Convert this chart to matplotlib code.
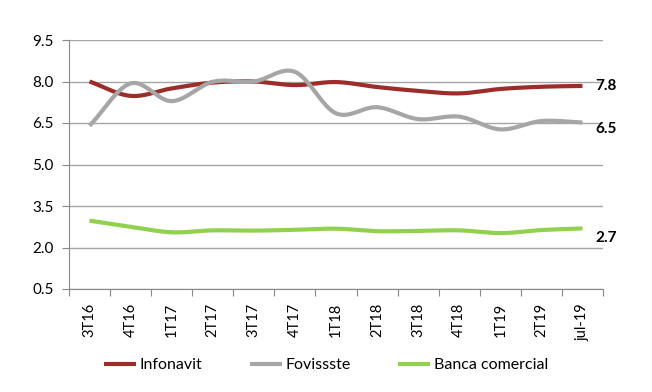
import matplotlib
matplotlib.use("Agg")
import matplotlib.pyplot as plt
import numpy as np

categories = ["3T16", "4T16", "1T17", "2T17", "3T17", "4T17", "1T18",
              "2T18", "3T18", "4T18", "1T19", "2T19", "jul-19"]
infonavit = [8.0, 7.48, 7.75, 7.96, 8.0, 7.87, 7.98, 7.8, 7.66, 7.57, 7.73, 7.81, 7.84]
fovissste = [6.4, 7.93, 7.29, 7.99, 8.0, 8.35, 6.85, 7.07, 6.64, 6.73, 6.27, 6.57, 6.52]
banca = [2.97, 2.75, 2.55, 2.62, 2.61, 2.64, 2.68, 2.59, 2.6, 2.62, 2.52, 2.63, 2.69]
series_names = ["Infonavit", "Fovissste", "Banca comercial"]
end_labels = ["7.8", "6.5", "2.7"]
yticks = [0.5, 2.0, 3.5, 5.0, 6.5, 8.0, 9.5]

colors = ["#9B2D2B", "#A6A6A6", "#92D050"]

plt.rcParams['font.family'] = ['Lato', 'DejaVu Sans']


def smooth(x, y, n=20):
    x = np.asarray(x, float); y = np.asarray(y, float)
    xp = np.concatenate([[2 * x[0] - x[1]], x, [2 * x[-1] - x[-2]]])
    yp = np.concatenate([[2 * y[0] - y[1]], y, [2 * y[-1] - y[-2]]])
    xs, ys = [], []
    for i in range(1, len(xp) - 2):
        t = np.linspace(0, 1, n, endpoint=False)
        for arr, out in ((xp, xs), (yp, ys)):
            p0, p1, p2, p3 = arr[i - 1], arr[i], arr[i + 1], arr[i + 2]
            c = 0.5 * ((2 * p1) + (-p0 + p2) * t + (2 * p0 - 5 * p1 + 4 * p2 - p3) * t ** 2
                       + (-p0 + 3 * p1 - 3 * p2 + p3) * t ** 3)
            out.extend(c)
    xs.append(x[-1]); ys.append(y[-1])
    return np.array(xs), np.array(ys)


fig = plt.figure(figsize=(6.52, 3.92), dpi=100)
ax = fig.add_axes([69 / 652, 1 - 289 / 392, (603 - 69) / 652, (289 - 40) / 392])

x = np.arange(len(categories))
for vals, col, name in zip([infonavit, fovissste, banca], colors, series_names):
    sx, sy = smooth(x, vals)
    ax.plot(sx, sy, color=col, lw=3.0, solid_capstyle='butt', label=name, zorder=3)

ax.set_ylim(0.5, 9.5)
ax.set_xlim(-0.5, len(categories) - 0.5)
ax.set_yticks(yticks)
ax.set_yticklabels([f"{v:.1f}" for v in yticks], fontsize=11)
ax.yaxis.grid(True, color="#A6A6A6", lw=1.0)
ax.set_axisbelow(True)

ax.set_xticks(np.arange(len(categories) + 1) - 0.5)
ax.set_xticklabels([])
ax.set_xticks(x, minor=True)
ax.set_xticklabels(categories, minor=True, rotation=90, fontsize=10.5)
ax.tick_params(axis='x', which='minor', length=0, pad=10)
ax.tick_params(axis='x', which='major', length=5, color="#888888")
ax.tick_params(axis='y', length=5, color="#888888", pad=6)

for s in ['top', 'right']:
    ax.spines[s].set_visible(False)
for s in ['left', 'bottom']:
    ax.spines[s].set_color("#888888")

for vals, lab, dy in zip([infonavit, fovissste, banca], end_labels, [0.0, -0.25, -0.35]):
    ax.annotate(lab, (x[-1], vals[-1] + dy), xytext=(9, 0), textcoords='offset points',
                fontsize=11, fontweight='bold', va='center', ha='left',
                annotation_clip=False)

leg = fig.legend(loc='center', bbox_to_anchor=(0.5, 1 - 365 / 392), ncol=3, frameon=False,
                 fontsize=11.5, handlelength=2.0, handletextpad=0.2, columnspacing=3.0)

fig.savefig("out.png", dpi=100)
